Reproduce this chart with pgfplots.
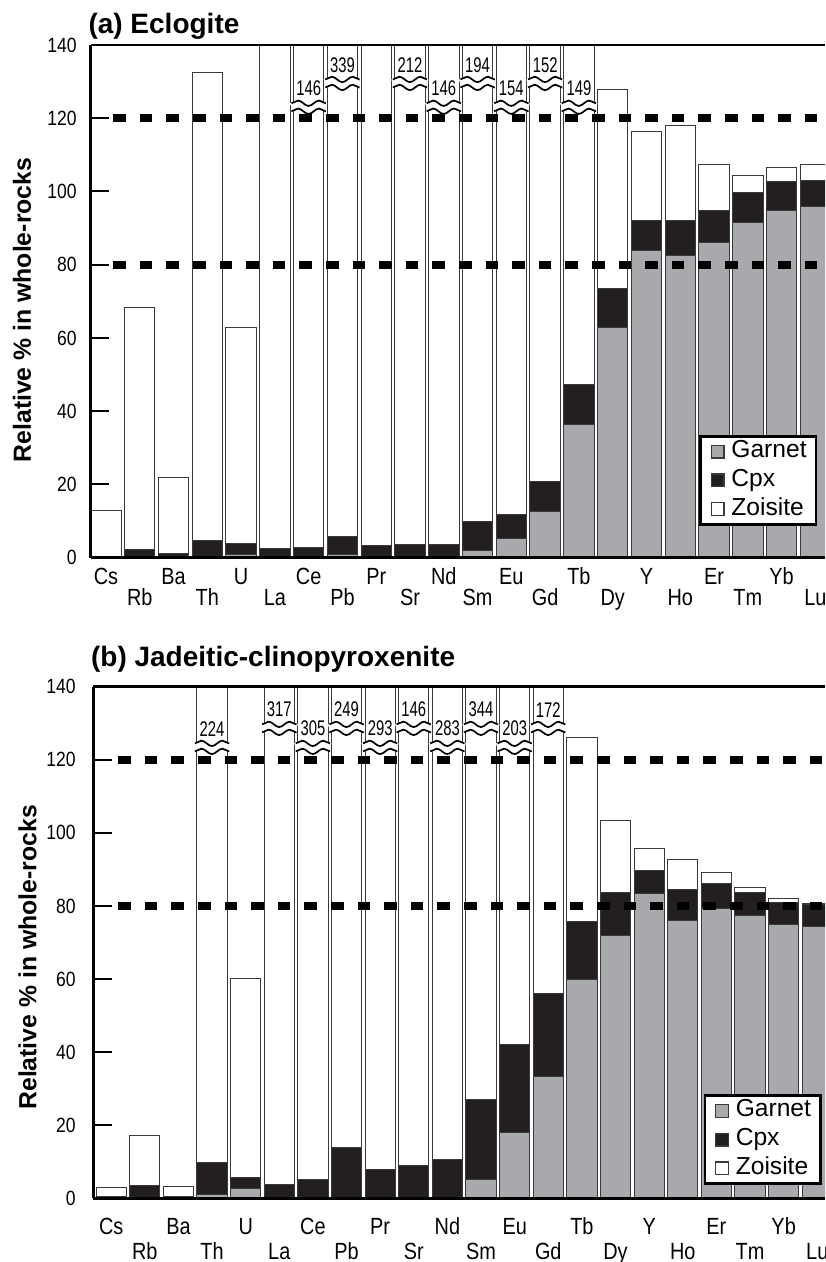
\documentclass[border=0pt]{standalone}
\usepackage{fontspec}
\setmainfont{Liberation Sans}
\newfontfamily\narrowfont[FakeStretch=0.85]{Liberation Sans}
\newfontfamily\brkfont[FakeStretch=0.7]{Liberation Sans}
\usepackage{pgfplots}
\usepackage{pgfplotstable}
\pgfplotsset{compat=1.18}
\usetikzlibrary{decorations.pathmorphing}

\definecolor{garnet}{HTML}{A7A9AC}
\definecolor{cpx}{HTML}{231F20}
\definecolor{barline}{HTML}{3A3A3A}

% relative % of each element held by each mineral
\pgfplotstableread{
x el garnet cpx zoisite
0 Cs 0 0 12.8
1 Rb 0.3 2.0 65.9
2 Ba 0.2 1.0 20.6
3 Th 0.3 4.5 127.8
4 U 0.8 3.1 58.9
5 La 0 2.6 137.4
6 Ce 0.2 2.6 143.2
7 Pb 0.8 4.9 333.3
8 Pr 0 3.3 136.7
9 Sr 0.2 3.3 208.5
10 Nd 0 3.5 142.5
11 Sm 1.9 7.9 184.2
12 Eu 5.2 6.5 142.3
13 Gd 12.5 8.2 131.3
14 Tb 36.5 10.9 101.6
15 Dy 62.9 10.6 54.4
16 Y 84.0 8.2 24.3
17 Ho 82.6 9.4 26.0
18 Er 86.2 8.6 12.6
19 Tm 91.5 8.3 4.6
20 Yb 94.8 7.9 3.9
21 Lu 95.9 7.1 4.4
}\eclogite

\pgfplotstableread{
x el garnet cpx zoisite
0 Cs 0 0.5 2.5
1 Rb 0.2 3.2 13.8
2 Ba 0 0.6 2.7
3 Th 1.1 8.6 214.3
4 U 2.6 3.2 54.4
5 La 0 3.8 313.2
6 Ce 0 5.2 299.8
7 Pb 0 13.9 235.1
8 Pr 0 8.0 285.0
9 Sr 0 9.0 137.0
10 Nd 0 10.7 272.3
11 Sm 5.2 21.8 317.0
12 Eu 18.0 24.2 160.8
13 Gd 33.2 22.8 116.0
14 Tb 59.9 15.8 50.4
15 Dy 71.9 11.8 19.6
16 Y 83.4 6.2 6.0
17 Ho 76.1 8.4 8.1
18 Er 79.2 7.0 3.0
19 Tm 77.5 6.2 1.3
20 Yb 75.0 6.0 1.0
21 Lu 74.5 5.8 0.4
}\jadeitite

% axis break on a bar: x, height, true value
\newcommand\brk[3]{%
  \draw[white, line width=4.2pt, decorate, decoration={snake, amplitude=1.35pt, segment length=10.5pt}]
    ([xshift=-8.6pt]axis cs:#1,#2) -- ([xshift=8.6pt]axis cs:#1,#2);
  \draw[black, line width=0.85pt, decorate, decoration={snake, amplitude=1.35pt, segment length=10.5pt}]
    ([xshift=-8.6pt, yshift=2pt]axis cs:#1,#2) -- ([xshift=8.6pt, yshift=2pt]axis cs:#1,#2);
  \draw[black, line width=0.85pt, decorate, decoration={snake, amplitude=1.35pt, segment length=10.5pt}]
    ([xshift=-8.6pt, yshift=-2pt]axis cs:#1,#2) -- ([xshift=8.6pt, yshift=-2pt]axis cs:#1,#2);
  \node[font=\brkfont\fontsize{10.6}{12}\selectfont, anchor=south, inner sep=0pt]
    at ([yshift=5.4pt]axis cs:#1,#2) {#3};
}

\newcommand\refline[1]{%
  \draw[black, line width=4pt, dash pattern=on 6.3pt off 7pt]
    (axis cs:0.21,#1) -- (axis cs:21.3,#1);
}

\pgfplotsset{
  rockbars/.style={
    scale only axis,
    ybar stacked, bar width=0.9,
    reverse stacked plots=false,
    ymin=0, ymax=140, ytick={0,20,...,140},
    axis x line*=box, axis y line*=left,
    axis line style={line width=1.3pt, black},
    axis on top,
    tick align=inside, major tick length=9.3pt,
    ytick style={line width=1pt, black},
    xtick style={draw=none},
    /pgf/number format/assume math mode=true,
    yticklabel style={font=\narrowfont\fontsize{10.3}{12}\selectfont, inner sep=0pt, anchor=east},
    xtick={0,2,...,20},
    extra x ticks={1,3,...,21},
    xticklabel style={font=\narrowfont\fontsize{11.7}{14}\selectfont, inner sep=0pt, anchor=north,
      text height=8.6pt, text depth=2.4pt},
    every axis y label/.style={rotate=90, anchor=center,
      font=\fontsize{12.4}{14}\selectfont\bfseries},
    ylabel={Relative \% in whole-rocks},
    every axis title/.style={at={(axis description cs:0,1)}, anchor=base west, inner sep=0pt,
      font=\fontsize{14}{16}\selectfont\bfseries},
    legend cell align=left,
    legend image code/.code={%
      \path (0pt,0pt);
      \draw[##1, draw=barline, line width=0.6pt] (3.7pt,-3.2pt) rectangle (10.1pt,3.2pt);},
    legend style={draw=black, line width=1.3pt, anchor=south east,
      font=\fontsize{12.3}{14}\selectfont, inner xsep=1.3pt, inner ysep=0.5pt,
      nodes={text height=8.6pt, text depth=2.4pt, inner xsep=3.4pt, inner ysep=1.7pt}},
  },
  garnetbar/.style={fill=garnet, draw=barline, line width=0.5pt},
  cpxbar/.style={fill=cpx, draw=barline, line width=0.5pt},
  zoisitebar/.style={fill=white, draw=barline, line width=0.5pt},
}

\begin{document}
\begin{tikzpicture}
\useasboundingbox (0,0) rectangle (412.5pt,-631pt);

% (a) Eclogite
\begin{axis}[rockbars,
  at={(45.25pt,-278.85pt)}, anchor=south west,
  width=367.25pt, height=256.35pt,
  xmin=-0.459, xmax=21.285,
  xticklabels={Cs,Ba,U,Ce,Pr,Nd,Eu,Tb,Y,Er,Yb},
  extra x tick labels={Rb,Th,La,Pb,Sr,Sm,Gd,Dy,Ho,Tm,Lu},
  xticklabel style={yshift=-4.5pt},
  extra x tick style={xtick style={draw=none}, grid=none, xticklabel style={yshift=-10.8pt}},
  yticklabel style={xshift=-6.7pt},
  y label style={at={([xshift=-34.2pt]axis description cs:0,0.483)}},
  title={(a) Eclogite},
  title style={xshift=-1.2pt, yshift=5.8pt},
  legend style={at={(0.9895,0.062)}},
]
\addplot[garnetbar] table[x=x, y=garnet]{\eclogite};
\addplot[cpxbar] table[x=x, y=cpx]{\eclogite};
\addplot[zoisitebar] table[x=x, y=zoisite]{\eclogite};
\legend{Garnet,Cpx,Zoisite}
\refline{120}
\refline{80}
\brk{6}{123}{146}
\brk{7}{129.5}{339}
\brk{9}{129.5}{212}
\brk{10}{123}{146}
\brk{11}{129.5}{194}
\brk{12}{123}{154}
\brk{13}{129.5}{152}
\brk{14}{123}{149}
\end{axis}

% (b) Jadeitic-clinopyroxenite
\begin{axis}[rockbars,
  at={(46.65pt,-599.15pt)}, anchor=south west,
  width=365.85pt, height=255.8pt,
  xmin=-0.532, xmax=21.23,
  xticklabels={Cs,Ba,U,Ce,Pr,Nd,Eu,Tb,Y,Er,Yb},
  extra x tick labels={Rb,Th,La,Pb,Sr,Sm,Gd,Dy,Ho,Tm,Lu},
  xticklabel style={yshift=-9.2pt},
  extra x tick style={xtick style={draw=none}, grid=none, xticklabel style={yshift=-12.5pt}},
  yticklabel style={xshift=-8.7pt},
  y label style={at={([xshift=-32.9pt]axis description cs:0,0.471)}},
  title={(b) Jadeitic-clinopyroxenite},
  title style={xshift=-1.3pt, yshift=10.3pt},
  legend style={at={(0.9955,0.026)}},
]
\addplot[garnetbar] table[x=x, y=garnet]{\jadeitite};
\addplot[cpxbar] table[x=x, y=cpx]{\jadeitite};
\addplot[zoisitebar] table[x=x, y=zoisite]{\jadeitite};
\legend{Garnet,Cpx,Zoisite}
\refline{120}
\refline{80}
\brk{3}{123.4}{224}
\brk{5}{128.6}{317}
\brk{6}{123.4}{305}
\brk{7}{128.6}{249}
\brk{8}{123.4}{293}
\brk{9}{128.6}{146}
\brk{10}{123.4}{283}
\brk{11}{128.6}{344}
\brk{12}{123.4}{203}
\brk{13}{128.6}{172}
\end{axis}
\end{tikzpicture}
\end{document}
